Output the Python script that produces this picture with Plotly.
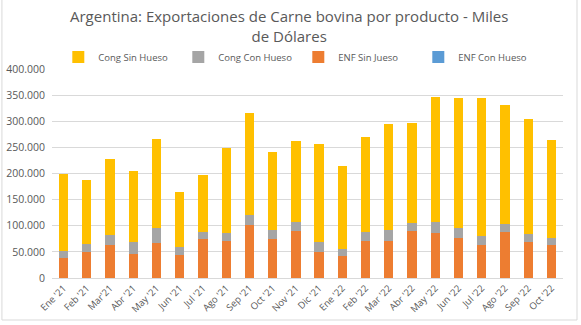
import plotly.graph_objects as go

meses = ["Ene '21", "Feb '21", "Mar'21", "Abr '21", "May '21", "Jun '21", "Jul '21",
         "Ago '21", "Sep '21", "Oct '21", "Nov '21", "Dic '21", "Ene '22", "Feb '22",
         "Mar '22", "Abr '22", "May '22", "Jun '22", "Jul '22", "Ago '22", "Sep '22",
         "Oct '22"]

# Miles de dólares por mes
enf_con_hueso = [300, 250, 400, 350, 450, 300, 500, 400, 600, 450, 500, 350,
                 300, 400, 450, 500, 550, 450, 400, 500, 400, 350]
enf_sin_hueso = [37400, 49550, 62200, 46250, 66050, 44400, 73500, 70600, 100400,
                 74350, 90200, 49450, 41200, 70600, 71150, 89000, 85450, 76250,
                 63600, 87000, 68600, 62950]
cong_con_hueso = [14100, 14700, 20400, 22400, 28500, 14700, 13500, 16000, 19000,
                  17900, 16300, 19200, 14100, 17000, 19800, 15500, 20700, 19300,
                  16000, 15500, 15000, 13400]
cong_sin_hueso = [148200, 122500, 145000, 135000, 171500, 104600, 109900, 161000,
                  195000, 148800, 155000, 187000, 159100, 182000, 203600, 192000,
                  240300, 248000, 264000, 228600, 221000, 187300]

series = [
    ("ENF Con Hueso", enf_con_hueso, "#5B9BD5"),
    ("ENF Sin Jueso", enf_sin_hueso, "#ED7D31"),
    ("Cong Con Hueso", cong_con_hueso, "#A5A5A5"),
    ("Cong Sin Hueso", cong_sin_hueso, "#FFC000"),
]

fig = go.Figure()
for nombre, valores, color in series:
    fig.add_trace(go.Bar(x=meses, y=valores, name=nombre,
                         marker=dict(color=color, line=dict(width=0))))

gris = "#595959"
fuente = "Open Sans"

fig.update_layout(
    width=581, height=325,
    barmode="stack", bargap=0.6,
    separators=",.",
    plot_bgcolor="white", paper_bgcolor="white",
    margin=dict(l=52, r=18, t=69, b=47, autoexpand=False),
    font=dict(family=fuente, color=gris, size=10),
    legend=dict(orientation="h", traceorder="reversed", x=0.482, xanchor="center",
                xref="paper", y=1.057, yanchor="middle",
                font=dict(family=fuente, size=9.5, color=gris),
                itemwidth=30, entrywidth=75, entrywidthmode="pixels",
                bgcolor="rgba(0,0,0,0)"),
    xaxis=dict(tickangle=-45, tickfont=dict(size=9.5, color=gris),
               showline=True, linecolor="#D9D9D9", linewidth=1,
               ticks="", showgrid=False),
    yaxis=dict(range=[0, 400000], dtick=50000, tickformat=",d",
               tickfont=dict(size=10.5, color=gris), ticklabelstandoff=6,
               showgrid=True, gridcolor="#D9D9D9", gridwidth=1,
               zeroline=False, showline=False, ticks="", ticklen=0),
    annotations=[dict(text="Argentina: Exportaciones de Carne bovina por producto - Miles<br>de Dólares",
                      xref="paper", yref="paper", x=0.464, y=1.205,
                      xanchor="center", yanchor="middle", showarrow=False,
                      font=dict(family=fuente, size=15, color=gris))],
    shapes=[dict(type="rect", xref="paper", yref="paper",
                 x0=-0.098, x1=1.0274, y0=-0.201, y1=1.36,
                 line=dict(color="#D9D9D9", width=1), fillcolor="rgba(0,0,0,0)",
                 layer="below")],
)

fig.write_html("out.html")
